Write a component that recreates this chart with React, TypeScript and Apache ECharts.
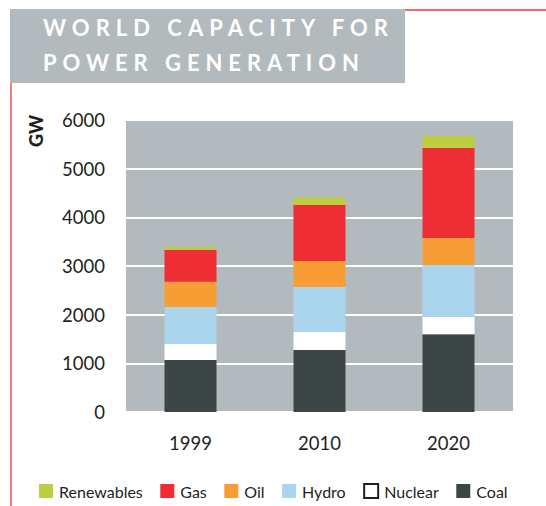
import React, { useEffect, useRef } from "react";
import * as echarts from "echarts";

// Installed generating capacity by source, GW
const years = ["1999", "2010", "2020"];
const coal = [1070, 1275, 1600];
const nuclear = [330, 370, 350];
const hydro = [760, 925, 1070];
const oil = [515, 535, 555];
const gas = [660, 1150, 1850];
const renewables = [60, 145, 245];

const legendOrder = ["Renewables", "Gas", "Oil", "Hydro", "Nuclear", "Coal"];
const titleLines = ["WORLD CAPACITY FOR", "POWER GENERATION"];
const axisName = "GW";

const INK = "#231f20";
const PANEL = "#b3babd";
const RED = "#e63a3f";
const FONT = "Lato, 'Open Sans', sans-serif";

// target printed widths of the letter-spaced title lines
const titleWidths = [345, 316];

export default function App() {
  const ref = useRef<HTMLDivElement>(null);

  useEffect(() => {
    if (!ref.current) return;
    const chart = echarts.init(ref.current, null, { renderer: "svg" });

    const bar = (name: string, data: number[], color: string) => ({
      name,
      type: "bar",
      stack: "total",
      data,
      barWidth: 52,
      itemStyle: { color },
      emphasis: { disabled: true },
    });

    chart.setOption({
      animation: false,
      grid: {
        left: 126,
        right: 33,
        top: 120,
        bottom: 94,
        show: true,
        backgroundColor: PANEL,
        borderWidth: 0,
      },
      xAxis: {
        type: "category",
        data: years,
        axisLine: { show: false },
        axisTick: { show: false },
        axisLabel: { color: INK, fontSize: 18.5, fontFamily: FONT, margin: 21 },
      },
      yAxis: {
        type: "value",
        min: 0,
        max: 6000,
        interval: 1000,
        axisLine: { show: false },
        axisTick: { show: false },
        axisLabel: {
          color: INK,
          fontSize: 18.5,
          fontFamily: FONT,
          margin: 21,
          formatter: (v: number) => String(v),
        },
        splitLine: { lineStyle: { color: "#ffffff", width: 2 } },
      },
      legend: {
        left: 39,
        top: 483,
        padding: 0,
        icon: "rect",
        itemWidth: 14,
        itemHeight: 14,
        itemGap: 17.5,
        selectedMode: false,
        textStyle: { color: INK, fontSize: 16, fontFamily: FONT, padding: [0, 0, 0, 1] },
        data: legendOrder.map((n) =>
          n === "Nuclear"
            ? { name: n, itemStyle: { color: "#ffffff", borderColor: INK, borderWidth: 2 } }
            : { name: n }
        ),
      },
      series: [
        bar("Coal", coal, "#3c4646"),
        bar("Nuclear", nuclear, "#ffffff"),
        bar("Hydro", hydro, "#abd5ec"),
        bar("Oil", oil, "#f89c36"),
        bar("Gas", gas, "#ee2d35"),
        bar("Renewables", renewables, "#bdce40"),
      ],
      graphic: [
        {
          type: "line",
          shape: { x1: 11, y1: 9, x2: 11, y2: 506 },
          style: { stroke: RED, lineWidth: 1.3 },
          silent: true,
        },
        {
          type: "line",
          shape: { x1: 400, y1: 10, x2: 546, y2: 10 },
          style: { stroke: RED, lineWidth: 1.3 },
          silent: true,
        },
        {
          type: "rect",
          shape: { x: 10, y: 9, width: 395, height: 74 },
          style: { fill: PANEL },
          silent: true,
        },
        {
          type: "text",
          x: 43,
          y: 27,
          style: {
            text: titleLines[0],
            fill: "#ffffff",
            font: `bold 22px ${FONT}`,
            align: "left",
            verticalAlign: "middle",
          },
          silent: true,
        },
        {
          type: "text",
          x: 43,
          y: 62,
          style: {
            text: titleLines[1],
            fill: "#ffffff",
            font: `bold 22px ${FONT}`,
            align: "left",
            verticalAlign: "middle",
          },
          silent: true,
        },
        {
          type: "text",
          x: 36,
          y: 131,
          rotation: Math.PI / 2,
          style: {
            text: axisName,
            fill: INK,
            font: `900 18px ${FONT}`,
            align: "center",
            verticalAlign: "middle",
          },
          silent: true,
        },
      ],
    });

    // widen the title's tracking to its printed width
    const svg = ref.current.querySelector("svg");
    if (svg) {
      svg.querySelectorAll("text").forEach((t) => {
        const i = titleLines.indexOf(t.textContent || "");
        if (i >= 0) {
          const el = t as SVGTextElement;
          const w = el.getComputedTextLength();
          const gaps = titleLines[i].length - 1;
          el.setAttribute("letter-spacing", String((titleWidths[i] - w) / gaps));
        }
      });
    }

    return () => chart.dispose();
  }, []);

  return (
    <div
      ref={ref}
      style={{ position: "absolute", left: 0, top: 0, width: 546, height: 506, background: "#ffffff" }}
    />
  );
}
